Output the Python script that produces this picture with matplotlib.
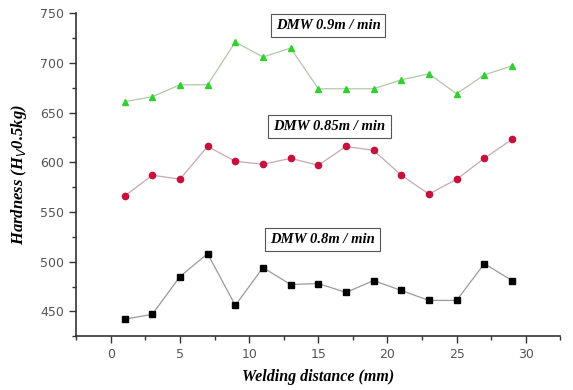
import matplotlib.pyplot as plt
from matplotlib.ticker import MultipleLocator

distance = [1, 3, 5, 7, 9, 11, 13, 15, 17, 19, 21, 23, 25, 27, 29]
hv_090 = [661, 666, 678, 678, 721, 706, 715, 674, 674, 674, 683, 689, 669, 688, 697]
hv_085 = [566, 587, 583, 616, 601, 598, 604, 597, 616, 612, 587, 568, 583, 604, 623]
hv_080 = [442, 447, 485, 508, 456, 494, 477, 478, 469, 481, 471, 461, 461, 498, 481]

labels = ["DMW 0.9m / min", "DMW 0.85m / min", "DMW 0.8m / min"]
label_pos = [(15.7, 738), (15.8, 636), (15.3, 522)]

serif_bi = dict(family="Liberation Serif", weight="bold", style="italic")

fig = plt.figure(figsize=(5.73, 3.9), dpi=100)
ax = fig.add_axes([0.133, 0.138, 0.845, 0.828])

ax.plot(distance, hv_090, c="#b0c8a8", lw=0.9, marker="^", ms=5,
        mfc="#2ed12e", mec="#2ed12e")
ax.plot(distance, hv_085, c="#c8a8b0", lw=0.9, marker="o", ms=4.5,
        mfc="#c8103c", mec="#c8103c")
ax.plot(distance, hv_080, c="#9a9a9a", lw=0.9, marker="s", ms=4.5,
        mfc="black", mec="black")

for txt, (x, y) in zip(labels, label_pos):
    ax.text(x, y, txt, ha="center", va="center", fontsize=10.5, **serif_bi,
            bbox=dict(boxstyle="square,pad=0.35", fc="white", ec="#555555", lw=0.8))

ax.set_xlim(-2.5, 32.5)
ax.set_ylim(425, 750)
ax.xaxis.set_major_locator(MultipleLocator(5))
ax.xaxis.set_minor_locator(MultipleLocator(2.5))
ax.yaxis.set_major_locator(MultipleLocator(50))
ax.yaxis.set_minor_locator(MultipleLocator(25))

for side in ("top", "right"):
    ax.spines[side].set_visible(False)
for side in ("left", "bottom"):
    ax.spines[side].set_color("#333333")
    ax.spines[side].set_linewidth(1.2)

ax.tick_params(which="major", direction="out", length=5, width=1, colors="#333333",
               labelsize=9, labelcolor="#555555")
ax.tick_params(which="minor", direction="out", length=3, width=1, colors="#333333")

ax.set_xlabel("Welding distance (mm)", fontsize=11.5, labelpad=6, **serif_bi)
ax.set_ylabel("Hardness (H$_V$0.5kg)", fontsize=12, labelpad=8, **serif_bi)

fig.savefig("out.png", dpi=100)
